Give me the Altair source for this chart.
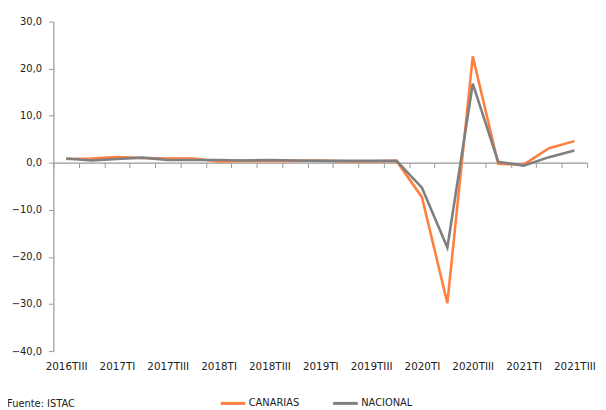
import altair as alt
import pandas as pd

periodos = ["2016TIII", "2016TIV", "2017TI", "2017TII", "2017TIII", "2017TIV",
            "2018TI", "2018TII", "2018TIII", "2018TIV", "2019TI", "2019TII",
            "2019TIII", "2019TIV", "2020TI", "2020TII", "2020TIII", "2020TIV",
            "2021TI", "2021TII", "2021TIII"]
canarias = [0.8, 0.9, 1.2, 1.0, 0.9, 0.9, 0.3, 0.4, 0.4, 0.4, 0.5, 0.3,
            0.3, 0.4, -7.3, -29.8, 22.6, -0.2, -0.4, 3.1, 4.6]
nacional = [0.9, 0.5, 0.8, 1.1, 0.6, 0.6, 0.6, 0.5, 0.6, 0.5, 0.4, 0.4,
            0.4, 0.4, -5.3, -18.0, 16.8, 0.2, -0.6, 1.2, 2.6]
series = ["CANARIAS", "NACIONAL"]
colores = ["#FF7F3F", "#7F7F7F"]
y_ticks = [-40, -30, -20, -10, 0, 10, 20, 30]
fuente = "Fuente: ISTAC"

rows = []
for i, p in enumerate(periodos):
    rows.append({"periodo": p, "serie": series[0], "valor": canarias[i]})
    rows.append({"periodo": p, "serie": series[1], "valor": nacional[i]})
df = pd.DataFrame(rows)

FONT = "DejaVu Sans"
H = 334
zero_offset = -round(H * 40 / 70)

lines = alt.Chart(df).mark_line(strokeWidth=2.6).encode(
    x=alt.X("periodo:N", sort=periodos, title=None,
            scale=alt.Scale(type="band", paddingInner=0, paddingOuter=0),
            axis=alt.Axis(
                tickBand="extent", offset=zero_offset, labelAngle=0,
                labelExpr="test(/T(I|III)$/, datum.value) ? datum.value : ''",
                labelPadding=197, tickSize=5, tickColor="#999999",
                domainColor="#999999", domainWidth=1.2, grid=False,
                labelFont=FONT, labelFontSize=10.5, labelColor="#222222")),
    y=alt.Y("valor:Q", title=None,
            scale=alt.Scale(domain=[-40, 30], nice=False, zero=False),
            axis=alt.Axis(values=y_ticks, grid=False, tickSize=5,
                          tickColor="#999999", domainColor="#999999",
                          domainWidth=1.2, labelPadding=7,
                          labelExpr="replace(format(datum.value, '.1f'), '.', ',')",
                          labelFont=FONT, labelFontSize=10, labelColor="#222222")),
    color=alt.Color("serie:N", scale=alt.Scale(domain=series, range=colores),
                    legend=alt.Legend(title=None, orient="none", direction="horizontal",
                                      legendX=168, legendY=373,
                                      symbolType="stroke", symbolSize=625,
                                      symbolStrokeWidth=3, columnPadding=27,
                                      labelOffset=2, labelFont=FONT,
                                      labelFontSize=10, labelColor="#222222")),
    order=alt.Order("idx:Q"),
).transform_calculate(
    idx="indexof(" + str(periodos) + ", datum.periodo)"
)

src = alt.Chart(pd.DataFrame({"t": [fuente]})).mark_text(
    align="left", baseline="alphabetic", font=FONT, fontSize=10, color="#222222"
).encode(text="t:N", x=alt.value(-47), y=alt.value(391))

chart = alt.layer(lines, src).properties(
    width=541, height=H,
    autosize=alt.AutoSizeParams(type="none"),
    padding={"left": 46, "top": 11, "right": 11, "bottom": 60},
).configure_view(stroke=None)

chart.save("out.html", embed_options={"renderer": "svg", "actions": False})
